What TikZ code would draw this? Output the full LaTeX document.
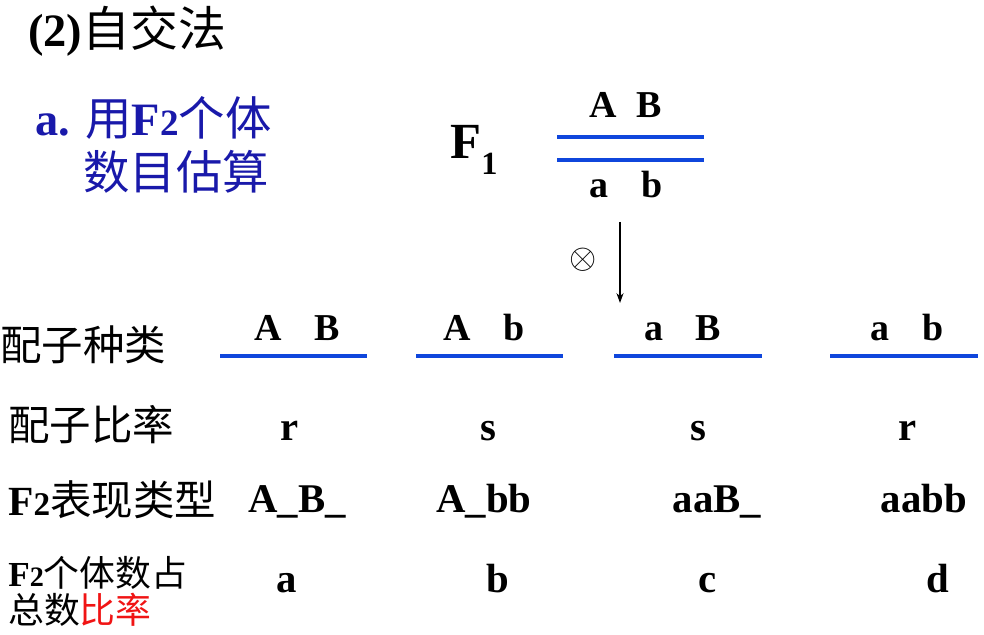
\documentclass[tikz,border=0pt]{standalone}
\usepackage{fontspec}
\setmainfont{Liberation Serif}
\newfontfamily\cjk{Noto Sans CJK SC}
\usepackage{xcolor}
\usetikzlibrary{arrows.meta, positioning}
\definecolor{headblue}{RGB}{25,25,170}
\definecolor{chromblue}{RGB}{15,70,220}
\definecolor{ratiored}{RGB}{240,20,20}
\newcommand{\Ftwo}{\textbf{F}{\bfseries\fontsize{0.8em}{1em}\selectfont 2}}

\begin{document}
\begin{tikzpicture}[x=0.025cm, y=-0.025cm,
  rowlabel/.style={anchor=west, inner sep=0pt, font=\cjk\fontsize{29.5}{32}\selectfont},
  gene/.style={anchor=base, inner sep=0pt, font=\bfseries\fontsize{27}{30}\selectfont},
  val/.style={anchor=base, inner sep=0pt, font=\bfseries\fontsize{29}{32}\selectfont},
  chrom/.style={draw=chromblue, line width=2.8pt}]
\useasboundingbox (0,0) rectangle (984,635);

% --- Title ---
\node[anchor=west, inner sep=0pt] (title) at (28,31)
{{\bfseries\fontsize{33}{36}\selectfont (2)}{\cjk\fontsize{34}{36}\selectfont 自交法}};

% --- Method ---
\node[anchor=west, inner sep=0pt, text=headblue] (method) at (35,118)
{{\bfseries\fontsize{33}{36}\selectfont a. }{\cjk\fontsize{33}{36}\selectfont 用}{\fontsize{33}{36}\selectfont\Ftwo}{\cjk\fontsize{33}{36}\selectfont 个体}};
\node[anchor=west, inner sep=0pt, text=headblue, font=\cjk\fontsize{33}{36}\selectfont] (methodb) at (83,172) {数目估算};

% --- F1 ---
\node[inner sep=0pt] (fone) at (474,150)
{\bfseries\fontsize{36}{40}\selectfont F\raisebox{-0.3em}{\fontsize{23}{24}\selectfont 1}};
\node[gene] (fonetop) at (626,118) {A\hspace{14pt}B};
\node[gene] (fonebot) at (626,198) {a\hspace{23pt}b};
\draw[chrom] (557,137) -- (704,137);
\draw[chrom] (557,160) -- (704,160);

% --- Selfing ---
\coordinate (selftop) at (620,222);
\coordinate (selfbot) at (620,303);
\draw[-{Stealth[length=7pt, width=5pt]}, line width=1.4pt] (selftop) -- (selfbot);
\node[inner sep=0pt, font=\fontsize{27}{30}\selectfont] (cross) at (583,260) {$\otimes$};

% --- Gamete types ---
\node[rowlabel] (gtype) at (0,345) {配子种类};
\node[gene] (gAB) at (297,341) {A\hspace{23pt}B};
\node[gene] (gAb) at (484,341) {A\hspace{23pt}b};
\node[gene] (gaB) at (683,341) {a\hspace{23pt}B};
\node[gene] (gab) at (907,341) {a\hspace{23pt}b};
\draw[chrom] (220,356) -- (367,356);
\draw[chrom] (416,356) -- (563,356);
\draw[chrom] (614,356) -- (762,356);
\draw[chrom] (830,356) -- (978,356);

% --- Gamete ratio ---
\node[rowlabel] (gratio) at (8,425) {配子比率};
\node[val] (rAB) at (290,440) {r};
\node[val] (rAb) at (488,440) {s};
\node[val] (raB) at (698,440) {s};
\node[val] (rab) at (908,440) {r};

% --- F2 phenotypes ---
\node[anchor=west, inner sep=0pt] (pheno) at (8,500)
{{\fontsize{29.5}{32}\selectfont\Ftwo}{\cjk\fontsize{29.5}{32}\selectfont 表现类型}};
\node[val] (pAB) at (297,512) {A\_B\_};
\node[val] (pAb) at (484,512) {A\_bb};
\node[val] (paB) at (717,512) {aaB\_};
\node[val] (pab) at (924,512) {aabb};

% --- F2 proportions ---
\node[anchor=west, inner sep=0pt] (share) at (8,573)
{{\fontsize{25}{28}\selectfont\Ftwo}{\cjk\fontsize{25.5}{28}\selectfont 个体数占}};
\node[anchor=west, inner sep=0pt, font=\cjk\fontsize{25.5}{28}\selectfont] (shareb) at (8,610)
{总数\textcolor{ratiored}{比率}};
\node[val] (qAB) at (287,592) {a};
\node[val] (qAb) at (498,592) {b};
\node[val] (qaB) at (708,592) {c};
\node[val] (qab) at (938,592) {d};

\end{tikzpicture}
\end{document}
